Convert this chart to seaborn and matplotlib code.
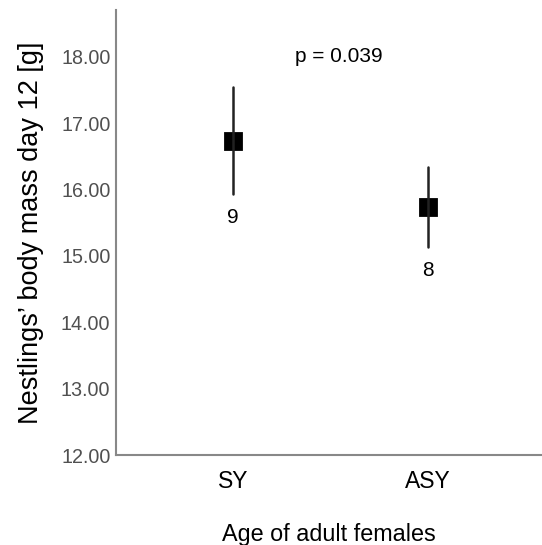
import matplotlib
matplotlib.use("Agg")
import matplotlib.pyplot as plt
import seaborn as sns
import pandas as pd

categories = ["SY", "ASY"]
means = [16.74, 15.74]
ci_low = [15.94, 15.13]
ci_high = [17.55, 16.34]
n_labels = ["9", "8"]
p_text = "p = 0.039"
yticks = [12, 13, 14, 15, 16, 17, 18]

rows = []
for c, lo, m, hi in zip(categories, ci_low, means, ci_high):
    for v in (lo, m, hi):
        rows.append({"group": c, "mass": v})
df = pd.DataFrame(rows)

sns.set_style("white")
plt.rcParams["font.family"] = ["Liberation Sans", "DejaVu Sans"]

fig = plt.figure(figsize=(5.42, 5.45), dpi=100)
ax = fig.add_axes([0.214, 0.165, 0.786, 0.817])

sns.pointplot(data=df, x="group", y="mass", order=categories,
              estimator="median", errorbar=lambda v: (v.min(), v.max()),
              linestyle="none", markers="s", markersize=12,
              color="black", err_kws={"linewidth": 1.8, "color": "#222222"},
              ax=ax)

for i, (lo, lab) in enumerate(zip(ci_low, n_labels)):
    ax.annotate(lab, xy=(i, lo), xytext=(0, -10), textcoords="offset points",
                ha="center", va="top", fontsize=15, color="black")

ax.text(0.545, 18.0, p_text, ha="center", va="center", fontsize=15, color="black")

ax.set_xlim(-0.6, 1.585)
ax.set_ylim(12, 18.71)
ax.set_yticks(yticks)
ax.set_yticklabels([f"{t:.2f}" for t in yticks], fontsize=14.2, color="#505050")
ax.tick_params(axis="x", labelsize=16.5, colors="black", pad=11, length=0)
ax.tick_params(axis="y", length=0, pad=4)
ax.set_xlabel("Age of adult females", fontsize=16.8, labelpad=21, color="black")
ax.set_ylabel("Nestlings’ body mass day 12 [g]", fontsize=19.5, labelpad=12, color="black")

for s in ["top", "right"]:
    ax.spines[s].set_visible(False)
for s in ["left", "bottom"]:
    ax.spines[s].set_color("#888888")
    ax.spines[s].set_linewidth(1.5)

fig.savefig("out.png", dpi=100)
